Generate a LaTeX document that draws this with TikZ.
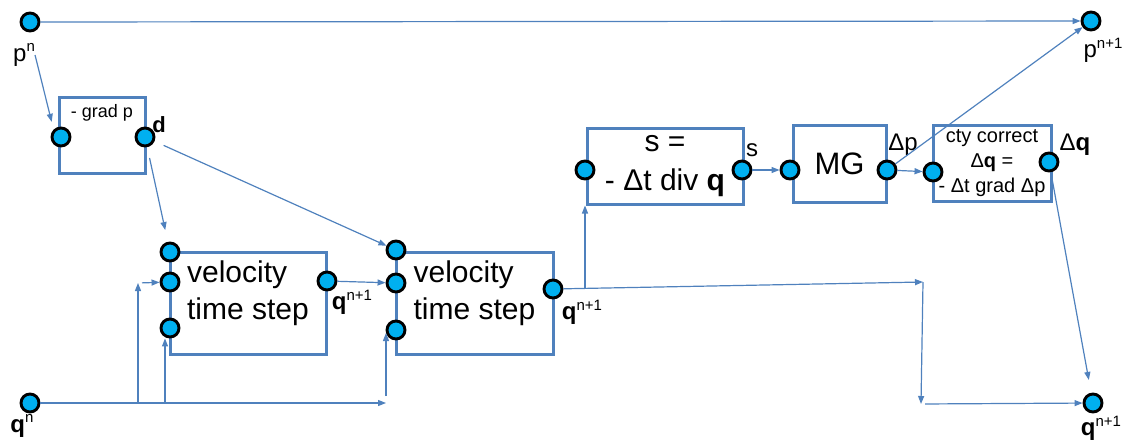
\documentclass[tikz,border=0pt]{standalone}
\usepackage{fontspec}
\setmainfont{Liberation Sans}
\usetikzlibrary{arrows.meta,positioning,calc}
\definecolor{LB}{HTML}{4F81BD}
\definecolor{PC}{HTML}{00B0F0}
\newcommand{\sps}[1]{\raisebox{0.38em}{\fontsize{15}{15}\selectfont #1}}

\begin{document}
\begin{tikzpicture}[x=1pt, y=-1pt,
    port/.style={circle, draw=black, line width=2.9pt, fill=PC,
                 minimum size=18pt, inner sep=0pt},
    blk/.style={draw=LB, line width=3pt, inner sep=0pt},
    lab/.style={font=\fontsize{24}{24}\selectfont, inner sep=0pt},
    flow/.style={draw=LB, line width=1.2pt, -{Triangle[length=8pt,width=6pt]}}]
  \useasboundingbox (0,0) rectangle (1125,442);

  \node[blk, minimum width=86pt, minimum height=76pt,
        font=\fontsize{18}{18}\selectfont,
        text height=13pt, text depth=49pt] (gradp) at (102,135) {- grad p};
  \node[blk, minimum width=156pt, minimum height=102pt,
        label={[name=vel1txt, yshift=10pt, align=left,
                font=\fontsize{30}{37}\selectfont]center:velocity\\time step}]
        (vel1) at (248,303) {};
  \node[blk, minimum width=157pt, minimum height=102pt,
        label={[name=vel2txt, yshift=10pt, align=left,
                font=\fontsize{30}{37}\selectfont]center:velocity\\time step}]
        (vel2) at (474.5,303) {};
  \node[blk, minimum width=156pt, minimum height=76pt, align=center,
        font=\fontsize{30}{39}\selectfont] (sdiv) at (665,166)
        {s =\\- Δt div \textbf{q}};
  \node[blk, minimum width=93pt, minimum height=77pt,
        font=\fontsize{31}{31}\selectfont] (mg) at (839.5,163.5) {MG};
  \node[blk, minimum width=118pt, minimum height=76pt, align=center,
        font=\fontsize{20}{25}\selectfont] (cty) at (992,163)
        {cty correct\\Δ\textbf{q} =\\- Δt grad Δp};

  \node[port] (pn) at (30,22) {};
  \node[port] (pnn) at (1091,21) {};
  \node[port] (qn) at (30,403) {};
  \node[port] (qnn) at (1093,403) {};
  \node[port] (gpin) at (61,137) {};
  \node[port] (gpout) at (145,137) {};
  \node[port] (v1a) at (170,252) {};
  \node[port] (v1b) at (170,282) {};
  \node[port] (v1c) at (170,328) {};
  \node[port] (v1o) at (327,281) {};
  \node[port] (v2a) at (396,250) {};
  \node[port] (v2b) at (396,283) {};
  \node[port] (v2c) at (396,330) {};
  \node[port] (v2o) at (553,289) {};
  \node[port] (sin) at (585,170) {};
  \node[port] (sout) at (742,170) {};
  \node[port] (mgin) at (790,170) {};
  \node[port] (mgout) at (887,170) {};
  \node[port] (ctyin) at (933,172) {};
  \node[port] (ctyout) at (1049,162) {};

  \node[lab] (pnlab) at (24,55) {p\sps{n}};
  \node[lab] (pnnlab) at (1103,50) {p\sps{n+1}};
  \node[lab] (qnlab) at (22,426) {\textbf{q}\sps{n}};
  \node[lab] (qnnlab) at (1101,428) {\textbf{q}\sps{n+1}};
  \node[lab, font=\fontsize{22}{22}\selectfont\bfseries] (dlab) at (159,125) {d};
  \node[lab] (v1lab) at (352,302) {\textbf{q}\sps{n+1}};
  \node[lab] (v2lab) at (582,312) {\textbf{q}\sps{n+1}};
  \node[lab] (slab) at (752,150) {s};
  \node[lab] (dplab) at (903,145) {Δp};
  \node[lab] (dqlab) at (1075,145) {Δ\textbf{q}};

  \coordinate (qa) at (138,403);
  \coordinate (qa2) at (138,283);
  \coordinate (qb) at (165,403);
  \coordinate (qc) at (386,403);
  \coordinate (qj) at (585,288);
  \coordinate (qd) at (923,282);
  \coordinate (qe) at (921,404);

  \draw[flow] (pn) -- (pnn);
  \draw[flow, shorten >=8pt] (pnlab.east) -- (gpin.north west);
  \draw[flow, shorten <=11pt, shorten >=12pt] (gpout) -- (v1a);
  \draw[flow, shorten <=10pt] (gpout) -- (v2a);
  \draw[flow] (qn) -- (qc);
  \draw[flow] (qa) -- (qa2);
  \draw[flow, shorten <=4pt] (qa2) -- (v1b);
  \draw[flow] (qb) -- (qb |- v1c.south);
  \draw[flow, shorten <=7pt, shorten >=3pt] (qc) -- (qc |- v2c);
  \draw[flow] (v1o) -- (v2b);
  \draw[flow] (v2o) -- (qd);
  \draw[flow] (qd) -- (qe);
  \draw[flow, shorten <=4pt] (qe) -- (qnn);
  \draw[flow] (qj) -- (qj |- sdiv.south);
  \draw[flow] (sout) -- (mgin);
  \draw[flow] (mgout) -- (ctyin);
  \draw[flow] (mgout) -- (pnn);
  \draw[flow, shorten >=13pt] (ctyout) -- (qnn);
\end{tikzpicture}
\end{document}
